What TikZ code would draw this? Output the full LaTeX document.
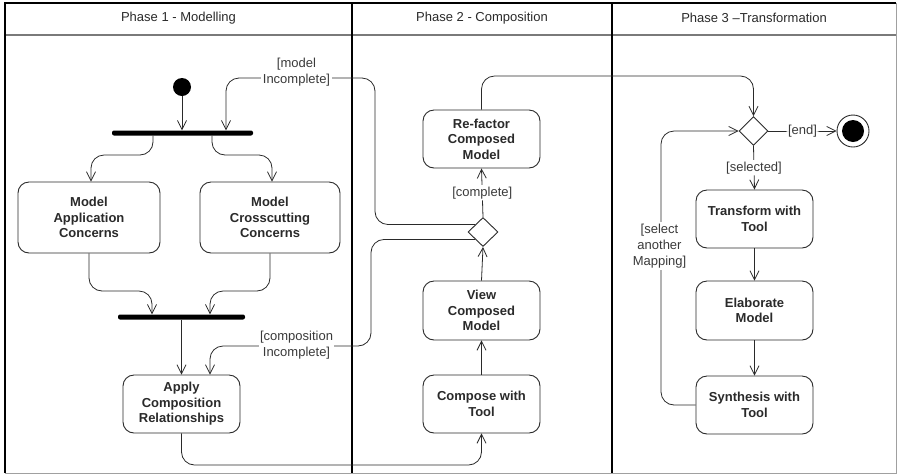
\documentclass[tikz,border=0pt]{standalone}
\usepackage{fontspec}
\setmainfont{Liberation Sans}
\usetikzlibrary{arrows.meta,shapes.geometric,calc}
\definecolor{ink}{HTML}{2A2A2A}
\definecolor{guardink}{HTML}{3A3A3A}
\definecolor{framegray}{HTML}{A0A0A0}
\definecolor{headline}{HTML}{7A7A7A}
\begin{document}
\begin{tikzpicture}[x=1pt,y=-1pt,
  every node/.style={font=\fontsize{13}{16}\selectfont, text=ink},
  action/.style={draw=ink, line width=0.9pt, rounded corners=11pt, align=center,
    font=\bfseries\fontsize{13}{15.5}\selectfont, inner sep=0pt, fill=white},
  bar/.style={fill=black, draw=none, minimum height=5pt, inner sep=0pt, rounded corners=2pt},
  decision/.style={diamond, draw=ink, line width=0.9pt, fill=white, inner sep=0pt,
    minimum width=30pt, minimum height=29pt},
  guard/.style={fill=white, align=center, inner sep=1.5pt, text=guardink},
  flow/.style={draw=ink, line width=0.8pt, rounded corners=13pt,
    -{Straight Barb[length=9pt,width=9pt]}},
  plain/.style={draw=ink, line width=0.8pt, rounded corners=13pt},
  lane/.style={draw=black, line width=1.3pt},
  heading/.style={text=ink}
]
\useasboundingbox (0,0) rectangle (897,475);
\fill[white] (0,0) rectangle (897,475);

% swimlane frame
\draw[headline, line width=1.2pt] (5,35) -- (896,35);
\draw[framegray, line width=1pt] (5,473) -- (896,473) -- (896,3);
\draw[black, line width=1.3pt] (5,473) -- (5,3) -- (896,3);
\draw[lane] (352,3) -- (352,473);
\draw[lane] (612,3) -- (612,473);

\node[heading] (h1) at (178.5,18) {Phase 1 - Modelling};
\node[heading] (h2) at (482,18) {Phase 2 - Composition};
\node[heading] (h3) at (754,18) {Phase 3 –Transformation};

% Phase 1 nodes
\node[circle, fill=black, minimum size=18pt, inner sep=0pt] (init) at (182,87) {};
\node[bar, minimum width=141pt] (fork1) at (182.5,133) {};
\node[action, minimum width=142pt, minimum height=71pt] (mac) at (89,217.5) {Model\\Application\\Concerns};
\node[action, minimum width=140pt, minimum height=71pt] (mcc) at (270,217.5) {Model\\Crosscutting\\Concerns};
\node[bar, minimum width=127pt] (fork2) at (181.5,317) {};
\node[action, minimum width=117pt, minimum height=58pt] (apply) at (181.5,404) {Apply\\Composition\\Relationships};

% Phase 2 nodes
\node[action, minimum width=117pt, minimum height=58pt] (compose) at (481.5,404) {Compose with\\Tool};
\node[action, minimum width=117pt, minimum height=59pt] (view) at (481.5,310.5) {View\\Composed\\Model};
\node[decision] (dec1) at (483,232) {};
\node[action, minimum width=117pt, minimum height=58pt] (refactor) at (481.5,139) {Re-factor\\Composed\\Model};

% Phase 3 nodes
\node[decision, minimum width=29pt] (dec2) at (753.5,131) {};
\node[circle, draw=ink, line width=0.9pt, minimum size=32pt, inner sep=0pt] (final) at (853,131) {};
\fill[black] (final.center) circle (11pt);
\node[action, minimum width=117pt, minimum height=58pt] (transform) at (754.5,219) {Transform with\\Tool};
\node[action, minimum width=117pt, minimum height=59pt] (elaborate) at (754.5,310.5) {Elaborate\\Model};
\node[action, minimum width=117pt, minimum height=58pt] (synth) at (754.5,405) {Synthesis with\\Tool};

% Phase 1 flows
\draw[flow] (init) -- (init |- fork1.north);
\draw[flow] ($(fork1.south)+(-29.5,0)$) -- (153,155) -| ($(mac.north)+(2,0)$);
\draw[flow] ($(fork1.south)+(29.5,0)$) -- (212,155) -| ($(mcc.north)+(2,0)$);
\draw[flow] (mac.south) |- (120,291) -| ($(fork2.north)+(-29.5,0)$);
\draw[flow] (mcc.south) |- (240,291) -| ($(fork2.north)+(28.5,0)$);
\draw[flow] (fork2.south) -- (apply.north);

% loops back from the composition decision
\draw[flow] (dec1.north west) -| (375,78) -| ($(fork1.north)+(43.5,0)$);
\node[guard] (gmodel) at (296.5,72.5) {[model\\Incomplete]};
\draw[flow] (dec1.south west) -| (371,346) -| ($(apply.north)+(28.5,0)$);
\node[guard] (gcomp) at (296.5,345) {[composition\\Incomplete]};

% Phase 2 flows
\draw[flow] (apply.south) |- (330,465) -| (compose.south);
\draw[flow] (compose.north) -- (view.south);
\draw[flow] (view.north) -- (dec1.south);
\draw[flow] (dec1.north) -- (refactor.south) node[guard, pos=0.5] (gcomplete) {[complete]};
\draw[flow] (refactor.north) |- (620,76) -| (dec2.north);

% Phase 3 flows
\draw[flow] (dec2.east) -- (final.west) node[guard, pos=0.5] (gend) {[end]};
\draw[flow] (dec2.south) -- (transform.north) node[guard, pos=0.5] (gsel) {[selected]};
\draw[flow] (transform.south) -- (elaborate.north);
\draw[flow] (elaborate.south) -- (synth.north);
\draw[flow] (synth.west) -| (661,300) |- (dec2.west);
\node[guard] (gmap) at (659.5,246) {[select\\another\\Mapping]};
\end{tikzpicture}
\end{document}
